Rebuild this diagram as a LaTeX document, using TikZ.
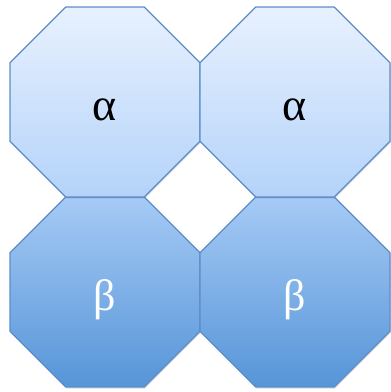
\documentclass[tikz,border=0pt]{standalone}
\usepackage{fontspec}
\setmainfont{Liberation Serif}
\usepackage{tikz}
\usetikzlibrary{shapes.geometric, positioning, shadows}
\definecolor{octline}{RGB}{92,141,200}
\definecolor{toptop}{RGB}{232,241,254}
\definecolor{topbot}{RGB}{180,211,250}
\definecolor{bottop}{RGB}{166,202,245}
\definecolor{botbot}{RGB}{86,149,216}
\tikzset{
  oct/.style={regular polygon, regular polygon sides=8,
    minimum size=205.6pt, inner sep=0pt, outer sep=0pt, draw=octline, line width=1.3pt,
    text height=36pt, text depth=0pt,
    drop shadow={opacity=0.25, shadow xshift=0.8pt, shadow yshift=-1.6pt}},
  alphaoct/.style={oct, top color=toptop, bottom color=topbot, text=black,
    font=\fontsize{46}{54}\selectfont},
  betaoct/.style={oct, top color=bottop, bottom color=botbot, text=white,
    font=\fontsize{44}{52}\selectfont}
}

\begin{document}
\begin{tikzpicture}[x=1pt, y=1pt, node distance=0pt]
  \useasboundingbox (0,0) rectangle (391,-392);
  \node[betaoct]  (b1) at (105,-292) {β};
  \node[betaoct, right=0pt of b1] (b2) {β};
  \node[alphaoct] (a1) at (105,-102) {α};
  \node[alphaoct, right=0pt of a1] (a2) {α};
\end{tikzpicture}
\end{document}
